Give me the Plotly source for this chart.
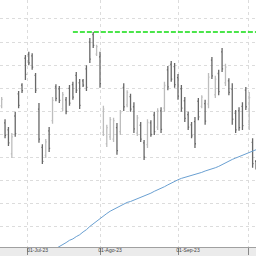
import plotly.graph_objects as go
import pandas as pd

dates = pd.bdate_range("2023-06-21", "2023-10-04")
idx = list(range(len(dates)))

high = [10.81, 10.33, 10.16, 10.03, 10.49, 10.94, 11.11, 11.72, 11.79, 11.76,
        11.33, 10.68, 9.79, 9.90, 10.16, 10.81, 11.09, 11.05, 10.92, 10.81,
        11.07, 11.14, 11.35, 11.20, 11.20, 11.50, 12.09, 12.22, 11.94, 11.79,
        10.62, 10.21, 10.38, 10.36, 10.25, 10.53, 11.11, 10.96, 10.88, 10.70,
        10.42, 10.27, 9.88, 10.33, 10.31, 10.49, 10.57, 10.59, 11.14, 11.48,
        11.59, 11.55, 11.31, 11.07, 10.81, 10.49, 10.27, 10.38, 10.79, 10.85,
        10.75, 11.33, 11.68, 11.27, 11.40, 11.87, 11.53, 11.22, 11.11, 10.53,
        10.59, 10.70, 11.03, 10.92, 9.92, 9.45]
low = [10.57, 9.92, 9.75, 9.49, 9.95, 10.57, 10.90, 11.18, 11.50, 11.40,
       10.90, 9.82, 9.36, 9.49, 9.62, 10.23, 10.72, 10.68, 10.51, 10.44,
       10.62, 10.75, 10.90, 10.55, 11.03, 10.94, 11.55, 11.87, 11.70, 11.01,
       9.97, 9.73, 9.88, 9.84, 9.56, 9.99, 10.51, 10.59, 10.49, 10.03,
       9.97, 9.84, 9.45, 9.71, 9.95, 9.99, 10.10, 10.03, 10.49, 10.96,
       11.14, 11.01, 10.75, 10.49, 10.27, 10.10, 9.92, 9.71, 10.31, 10.57,
       10.21, 10.57, 11.20, 10.79, 10.85, 11.35, 11.05, 10.85, 10.21, 10.03,
       10.08, 10.10, 10.53, 10.10, 9.28, 9.24]
open_ = [10.62, 10.25, 10.10, 9.58, 10.40, 10.88, 11.07, 11.65, 11.74, 11.70,
         11.28, 10.55, 9.72, 9.55, 10.08, 10.30, 11.03, 10.99, 10.56, 10.75,
         11.00, 11.08, 11.28, 11.12, 11.16, 11.42, 12.00, 12.16, 11.74, 11.68,
         10.05, 9.80, 9.95, 9.90, 10.15, 10.06, 11.02, 10.64, 10.82, 10.60,
         10.03, 10.20, 9.82, 9.78, 10.25, 10.42, 10.16, 10.51, 10.57, 11.40,
         11.52, 11.47, 11.23, 10.99, 10.73, 10.43, 10.21, 10.28, 10.72, 10.61,
         10.67, 10.66, 11.61, 10.86, 11.32, 11.79, 11.12, 11.16, 10.98, 10.46,
         10.51, 10.61, 10.96, 10.22, 9.83, 9.42]
close = [10.76, 9.98, 9.82, 9.95, 10.02, 10.63, 10.95, 11.30, 11.55, 11.46,
         10.96, 9.90, 9.42, 9.84, 9.70, 10.74, 10.78, 10.74, 10.86, 10.50,
         10.68, 10.81, 10.96, 10.63, 11.07, 11.02, 11.63, 11.93, 11.90, 11.10,
         10.55, 10.15, 10.32, 10.30, 9.65, 10.47, 10.60, 10.91, 10.55, 10.12,
         10.36, 9.90, 9.51, 10.26, 10.00, 10.06, 10.51, 10.11, 11.06, 11.03,
         11.20, 11.08, 10.83, 10.57, 10.35, 10.16, 9.97, 9.80, 10.38, 10.81,
         10.29, 11.24, 11.27, 11.20, 10.93, 11.42, 11.46, 10.91, 10.33, 10.10,
         10.15, 10.19, 10.60, 10.80, 9.37, 9.27]

ma_x = list(range(15, 76))
ma = [7.49, 7.53, 7.58, 7.62, 7.66, 7.71, 7.74, 7.79, 7.83, 7.89,
      7.94, 8.01, 8.07, 8.13, 8.19, 8.24, 8.29, 8.34, 8.38, 8.42,
      8.46, 8.50, 8.53, 8.55, 8.58, 8.60, 8.63, 8.66, 8.69, 8.73,
      8.77, 8.80, 8.84, 8.87, 8.91, 8.95, 8.98, 9.02, 9.05, 9.07,
      9.09, 9.11, 9.13, 9.16, 9.18, 9.21, 9.23, 9.26, 9.28, 9.31,
      9.35, 9.39, 9.43, 9.46, 9.49, 9.52, 9.55, 9.57, 9.61, 9.64, 9.67]

resist_x = [21, 76]
resist_y = [12.22, 12.22]

tick_pos = [7.67, 29, 52, 72.67]
tick_text = ["01-Jul-23", "01-Ago-23", "01-Sep-23", "01-Oct-23"]

fig = go.Figure()
fig.add_trace(go.Ohlc(
    x=idx, open=open_, high=high, low=low, close=close,
    increasing=dict(line=dict(color="#bdbdbd", width=1.3)),
    decreasing=dict(line=dict(color="#686868", width=1.3)),
    tickwidth=0.3, hoverinfo="skip", showlegend=False))
fig.add_trace(go.Scatter(x=ma_x, y=ma, mode="lines",
                         line=dict(color="#6aa0d2", width=1),
                         hoverinfo="skip", showlegend=False))
fig.add_trace(go.Scatter(x=resist_x, y=resist_y, mode="lines",
                         line=dict(color="#11dd11", width=1.6, dash="5px,2px"),
                         hoverinfo="skip", showlegend=False))

fig.update_layout(
    width=256, height=256,
    margin=dict(l=0, r=0, t=0, b=9, pad=0),
    paper_bgcolor="#ebebeb", plot_bgcolor="white",
    xaxis=dict(range=[-0.49, 75.0], tickvals=tick_pos, ticktext=tick_text,
               showgrid=True, gridcolor="#dcdcdc", griddash="dot", gridwidth=1,
               zeroline=False, showline=True, linecolor="#a0a0a0", linewidth=1,
               ticks="outside", ticklen=7, tickcolor="#888888", tickwidth=1,
               tickfont=dict(size=5, color="#444444", family="Liberation Sans"),
               ticklabelshift=10, ticklabelstandoff=-9,
               rangeslider=dict(visible=False)),
    yaxis=dict(range=[7.565, 12.911], dtick=0.5, tick0=0,
               showgrid=True, gridcolor="#dcdcdc", griddash="dot", gridwidth=1,
               showticklabels=False, ticks="", zeroline=False, showline=False),
)

fig.write_html("out.html")
